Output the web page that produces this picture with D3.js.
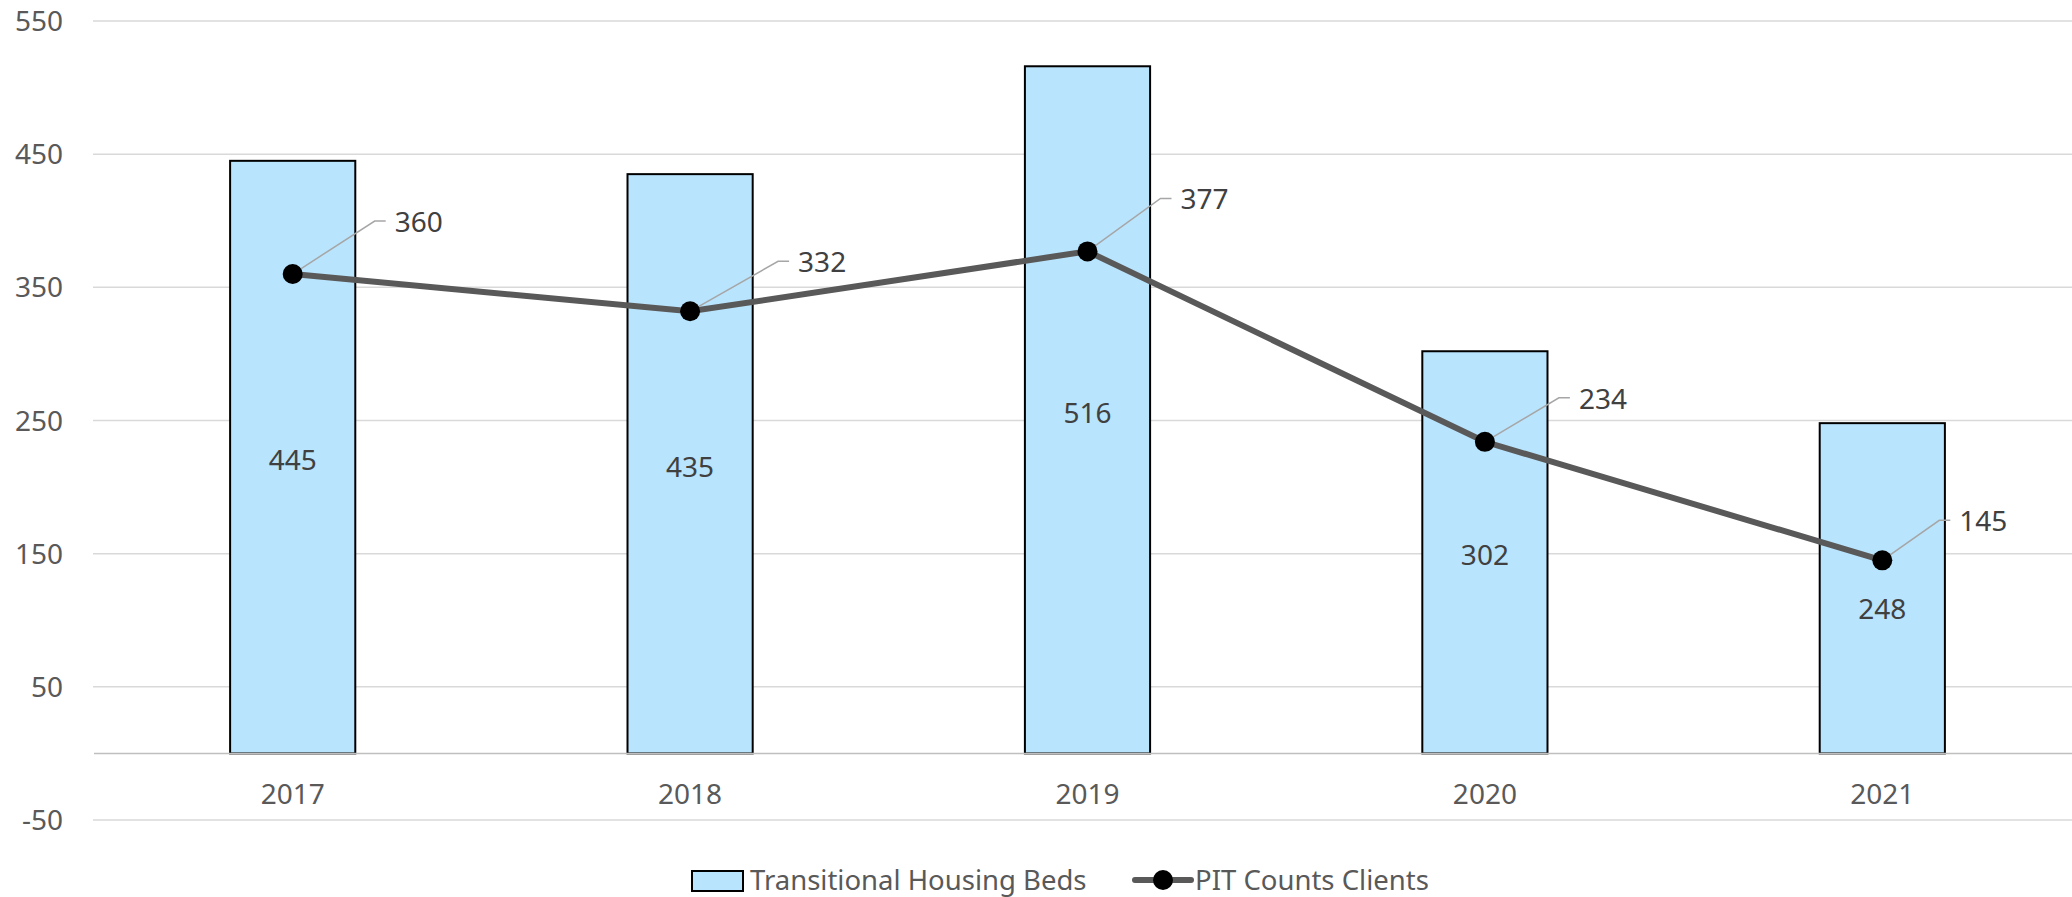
<!DOCTYPE html>
<html>
<head>
<meta charset="utf-8">
<script src="https://cdn.jsdelivr.net/npm/d3@7"></script>
<style>
  html, body { margin: 0; padding: 0; background: #fff; }
  svg { display: block; font-family: "Noto Sans", "Open Sans", sans-serif; }
</style>
</head>
<body>
<div id="chart"></div>
<script>
// chart data
const years = ["2017", "2018", "2019", "2020", "2021"];
const bedsValues = [445, 435, 516, 302, 248];
const pitValues = [360, 332, 377, 234, 145];
const yTicks = [-50, 50, 150, 250, 350, 450, 550];
const seriesNames = ["Transitional Housing Beds", "PIT Counts Clients"];

// label placement (leader elbow offsets, bar label nudges)
const pitLabelOffsets = [[82, -53], [88, -50], [73, -53], [74, -44], [57, -40]];
const barLabelNudge = [0, 0, 0, 0, 18];

const W = 2072, H = 897;
const margin = {left: 94, right: -9, top: 21, bottom: 77};

const svg = d3.select("#chart").append("svg")
  .attr("width", W)
  .attr("height", H);

const x = d3.scaleBand()
  .domain(years)
  .range([margin.left, W - margin.right])
  .paddingInner(0.685)
  .paddingOuter(0.3425);

const y = d3.scaleLinear()
  .domain([-50, 550])
  .range([H - margin.bottom, margin.top]);

// gridlines
svg.append("g")
  .selectAll("line")
  .data(yTicks)
  .join("line")
  .attr("x1", margin.left - 1)
  .attr("x2", W - margin.right)
  .attr("y1", d => y(d))
  .attr("y2", d => y(d))
  .attr("stroke", "#d9d9d9")
  .attr("stroke-width", 1.5);

// y tick labels
svg.append("g")
  .selectAll("text")
  .data(yTicks)
  .join("text")
  .attr("x", 63)
  .attr("y", d => y(d))
  .attr("dy", "0.36em")
  .attr("text-anchor", "end")
  .attr("font-size", 28)
  .attr("fill", "#595959")
  .text(d => d);

// bars
svg.append("g")
  .selectAll("rect")
  .data(bedsValues)
  .join("rect")
  .attr("x", (d, i) => x(years[i]))
  .attr("y", d => y(d))
  .attr("width", x.bandwidth())
  .attr("height", d => y(0) - y(d))
  .attr("fill", "#b9e4fd")
  .attr("stroke", "#000")
  .attr("stroke-width", 2);

// zero line (category axis)
svg.append("line")
  .attr("x1", margin.left)
  .attr("x2", W - margin.right)
  .attr("y1", y(0))
  .attr("y2", y(0))
  .attr("stroke", "#bfbfbf")
  .attr("stroke-width", 1.5);

// x labels
svg.append("g")
  .selectAll("text")
  .data(years)
  .join("text")
  .attr("x", d => x(d) + x.bandwidth() / 2)
  .attr("y", y(0) + 41)
  .attr("dy", "0.36em")
  .attr("text-anchor", "middle")
  .attr("font-size", 28)
  .attr("fill", "#595959")
  .text(d => d);

// bar value labels
svg.append("g")
  .selectAll("text")
  .data(bedsValues)
  .join("text")
  .attr("x", (d, i) => x(years[i]) + x.bandwidth() / 2)
  .attr("y", (d, i) => y(d / 2) + 3 + barLabelNudge[i])
  .attr("dy", "0.36em")
  .attr("text-anchor", "middle")
  .attr("font-size", 28)
  .attr("fill", "#404040")
  .text(d => d);

// line series
const cx = i => x(years[i]) + x.bandwidth() / 2;

const line = d3.line()
  .x((d, i) => cx(i))
  .y(d => y(d));

svg.append("path")
  .datum(pitValues)
  .attr("d", line)
  .attr("fill", "none")
  .attr("stroke", "#595959")
  .attr("stroke-width", 6);

// leader lines for the line labels
svg.append("g")
  .selectAll("polyline")
  .data(pitValues)
  .join("polyline")
  .attr("points", (d, i) => {
    const px = cx(i), py = y(d);
    const [ox, oy] = pitLabelOffsets[i];
    return [[px, py], [px + ox, py + oy], [px + ox + 11, py + oy]].join(" ");
  })
  .attr("fill", "none")
  .attr("stroke", "#a6a6a6")
  .attr("stroke-width", 1.5);

svg.append("g")
  .selectAll("circle")
  .data(pitValues)
  .join("circle")
  .attr("cx", (d, i) => cx(i))
  .attr("cy", d => y(d))
  .attr("r", 10)
  .attr("fill", "#000");

svg.append("g")
  .selectAll("text")
  .data(pitValues)
  .join("text")
  .attr("x", (d, i) => cx(i) + pitLabelOffsets[i][0] + 20)
  .attr("y", (d, i) => y(d) + pitLabelOffsets[i][1] + 1)
  .attr("dy", "0.36em")
  .attr("font-size", 28)
  .attr("fill", "#404040")
  .text(d => d);

// legend
const legend = svg.append("g");
const legendY = 880;

legend.append("rect")
  .attr("x", 692)
  .attr("y", legendY - 9)
  .attr("width", 51)
  .attr("height", 20)
  .attr("fill", "#b9e4fd")
  .attr("stroke", "#000")
  .attr("stroke-width", 2);

legend.append("text")
  .attr("x", 750)
  .attr("y", legendY)
  .attr("dy", "0.36em")
  .attr("font-size", 27.5)
  .attr("fill", "#595959")
  .text(seriesNames[0]);

legend.append("line")
  .attr("x1", 1135)
  .attr("x2", 1191)
  .attr("y1", legendY)
  .attr("y2", legendY)
  .attr("stroke", "#595959")
  .attr("stroke-width", 6)
  .attr("stroke-linecap", "round");

legend.append("circle")
  .attr("cx", 1163)
  .attr("cy", legendY)
  .attr("r", 10)
  .attr("fill", "#000");

legend.append("text")
  .attr("x", 1195)
  .attr("y", legendY)
  .attr("dy", "0.36em")
  .attr("font-size", 27.5)
  .attr("fill", "#595959")
  .text(seriesNames[1]);
</script>
</body>
</html>
